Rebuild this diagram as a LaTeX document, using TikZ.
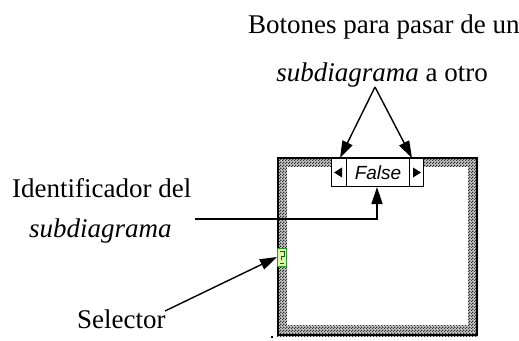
\documentclass[tikz,border=0pt]{standalone}
\usepackage{fontspec}
\setmainfont{Liberation Serif}
\newfontfamily\lcdfont{Liberation Sans}
\usetikzlibrary{arrows.meta,patterns}
\pgfdeclarepatternformonly{lvhatch}{\pgfpointorigin}{\pgfpoint{3pt}{3pt}}{\pgfpoint{3pt}{3pt}}{%
  \pgfpathrectangle{\pgfpoint{0pt}{0pt}}{\pgfpoint{1.5pt}{1.5pt}}%
  \pgfpathrectangle{\pgfpoint{1.5pt}{1.5pt}}{\pgfpoint{1.5pt}{1.5pt}}%
  \pgfusepath{fill}}
\definecolor{selgreen}{RGB}{40,150,40}
\definecolor{selfill}{RGB}{220,245,170}
\tikzset{
  lbl/.style={inner sep=0pt, anchor=base west, font=\fontsize{27}{32}\selectfont},
  pointer/.style={line width=1.4pt, -{Triangle[length=17pt,width=11pt]}},
  btn/.style={draw=black, line width=1pt, fill=white, minimum width=15pt, minimum height=28pt, inner sep=0pt},
}
\begin{document}
\begin{tikzpicture}[x=1pt,y=-1pt]
\useasboundingbox (0,0) rectangle (519,340);
% frame band
\fill[gray!45] (277,157) rectangle (478,336);
\fill[pattern=lvhatch, pattern color=black!80] (277,157) rectangle (478,336);
\fill[white] (287,167) rectangle (468,325);
\draw[line width=2pt] (278,158) rectangle (477,335);
% case label
\node[btn, anchor=north west] (leftbtn) at (331,158) {};
\node[btn, anchor=north east] (rightbtn) at (424,158) {};
\node[draw=black, line width=1pt, fill=white, inner sep=0pt, minimum height=28pt, anchor=north west, minimum width=63pt] (label) at (346,158)
  {\lcdfont\itshape\fontsize{19}{19}\selectfont False};
\fill (leftbtn.center) ++(-5,0) -- ++(8,-5) -- ++(0,10) -- cycle;
\fill (rightbtn.center) ++(5,0) -- ++(-8,-5) -- ++(0,10) -- cycle;
% selector
\node[draw=selgreen, line width=1pt, fill=selfill, minimum width=9pt, minimum height=18pt, inner sep=0pt] (selector) at (282,257) {};
\draw[selgreen!60!black, line width=1pt] (280,251) -- (284,251) -- (284,256) -- (281,256) -- (281,260) (280,263) -- (284,263);
% stray dot
\fill (271,336) rectangle (273,338);
% texts
\node[lbl] (botones) at (248,33) {Botones para pasar de un};
\node[lbl, anchor=base] (otro) at (382,81) {\textit{subdiagrama} a otro};
\node[lbl] (ident) at (12,197) {Identificador del};
\node[lbl] (identb) at (29,237) {\textit{subdiagrama}};
\node[lbl] (sel) at (77,328) {Selector};
% pointers
\coordinate (apex) at (375,87);
\coordinate (idstart) at (195,219);
\coordinate (selstart) at (165,311);
\draw[pointer] (apex) -- ([xshift=1pt]leftbtn.north);
\draw[pointer] (apex) -- ([xshift=-4pt]rightbtn.north);
\draw[pointer] (idstart) -| ([xshift=-1pt]label.south);
\draw[pointer] (selstart) -- (selector.west);
\end{tikzpicture}
\end{document}
